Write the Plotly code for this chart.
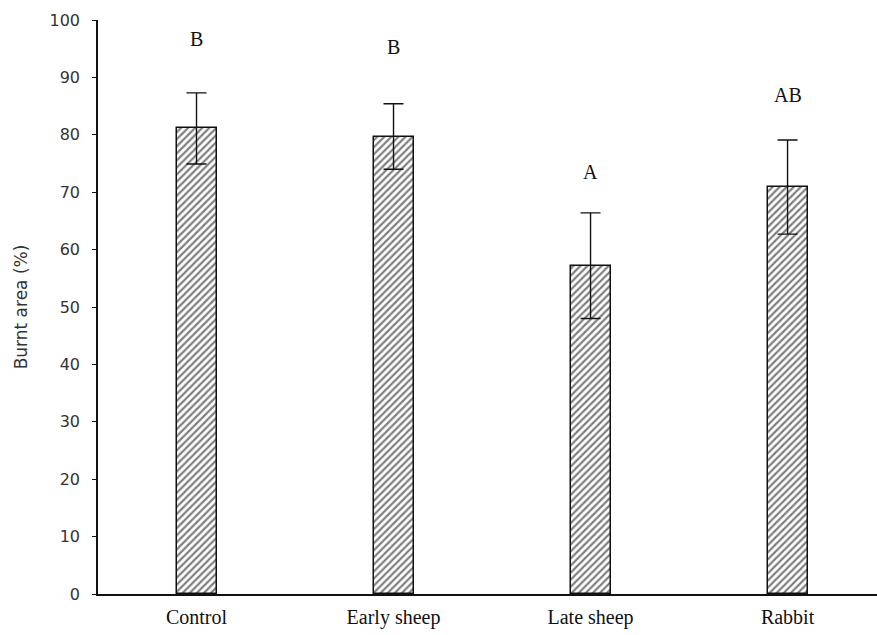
import plotly.graph_objects as go

# Treatment groups, mean burnt area (%) and error (±) for each group
treatments = ["Control", "Early sheep", "Late sheep", "Rabbit"]
burnt_mean = [81.1, 79.7, 57.2, 70.9]
burnt_err = [6.2, 5.7, 9.2, 8.2]
group_letters = ["B", "B", "A", "AB"]

# vertical offset (px) of each significance letter above its error bar
letter_shift = [54, 57, 41, 45]

serif = "Liberation Serif, Times New Roman, serif"
sans = "DejaVu Sans, Tahoma, sans-serif"
ink = "#111111"

fig = go.Figure()
fig.add_trace(go.Bar(
    x=treatments,
    y=burnt_mean,
    width=0.203,
    marker=dict(
        color="white",
        line=dict(color=ink, width=1.5),
        pattern=dict(shape="/", fgcolor="black", bgcolor="white", size=5, solidity=0.45),
    ),
    error_y=dict(type="data", array=burnt_err, visible=True,
                 color=ink, thickness=1.4, width=10),
    showlegend=False,
))

for i, (t, m, e, lab) in enumerate(zip(treatments, burnt_mean, burnt_err, group_letters)):
    fig.add_annotation(
        x=t, y=m + e, text=lab, showarrow=False,
        yanchor="middle", yshift=letter_shift[i],
        font=dict(family=serif, size=20, color=ink),
    )

fig.update_layout(
    width=877, height=635,
    margin=dict(l=98, r=0, t=20, b=41),
    plot_bgcolor="white", paper_bgcolor="white",
    bargap=0,
)
fig.update_xaxes(
    range=[-0.5, 3.454],
    showline=True, linecolor=ink, linewidth=1.5,
    ticks="", showgrid=False, zeroline=False,
    tickfont=dict(family=serif, size=20, color=ink),
    ticklabelstandoff=4,
)
fig.update_yaxes(
    range=[0, 100], tickvals=list(range(0, 101, 10)),
    showline=True, linecolor=ink, linewidth=1.5,
    ticks="outside", ticklen=4, tickwidth=1.2, tickcolor=ink,
    showgrid=False, zeroline=False,
    tickfont=dict(family=sans, size=16, color="#333"),
    ticklabelstandoff=9,
    title=dict(text="Burnt area (%)", font=dict(family=sans, size=17, color="#333"),
               standoff=18),
)

fig.write_html("out.html")
